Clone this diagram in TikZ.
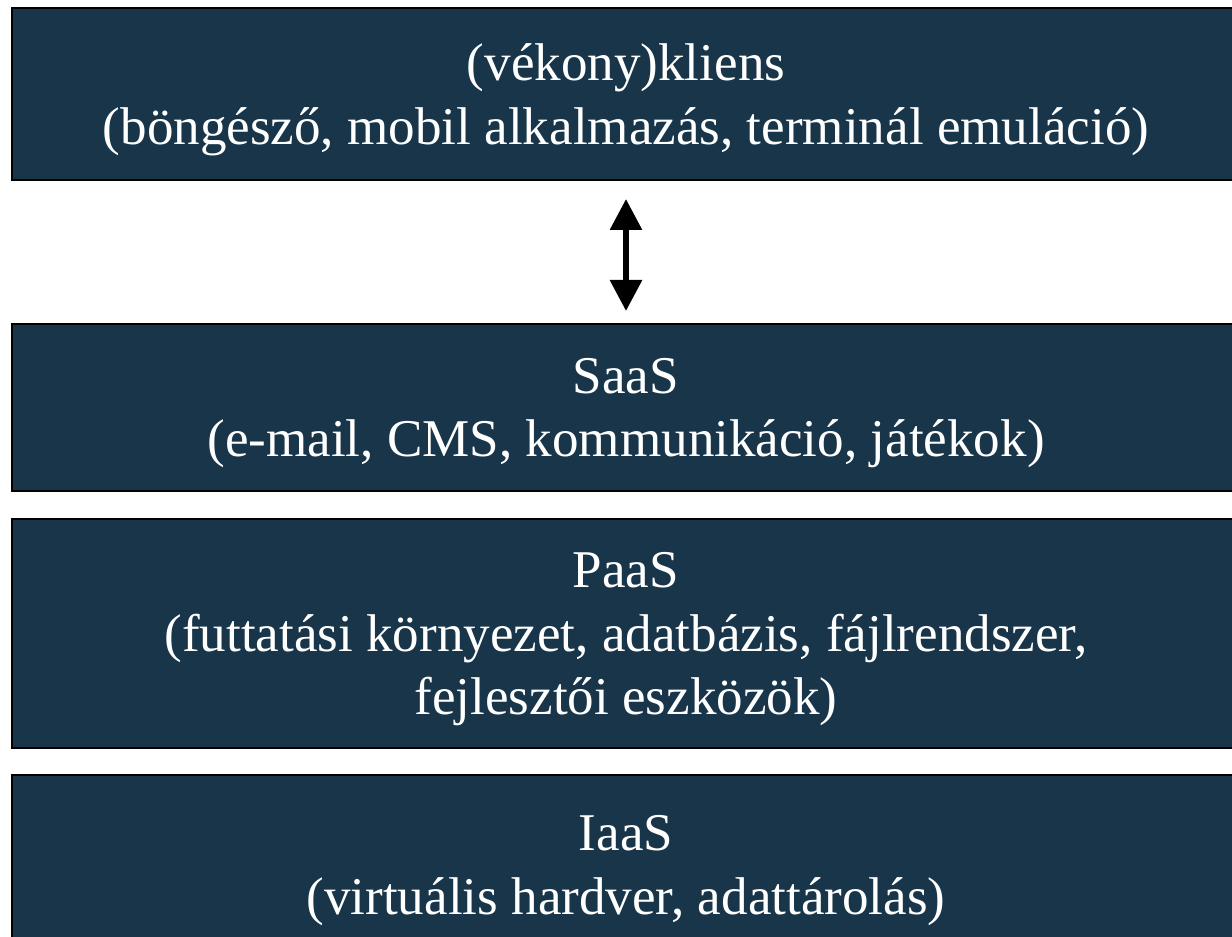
\documentclass[tikz,border=0pt]{standalone}
\usepackage{fontspec}
\setmainfont{Liberation Serif}
\usepackage{tikz}
\usetikzlibrary{arrows.meta, positioning}
\definecolor{layernavy}{RGB}{24, 53, 74}
\tikzset{
  >=Triangle,
  linkarrow/.style={{Triangle[length=0.62cm, width=0.62cm]}-{Triangle[length=0.62cm, width=0.62cm]}, line width=3.4pt, black}
}

\begin{document}
\begin{tikzpicture}[
    layerbox/.style={rectangle, draw=black, fill=layernavy, line width=1.2pt, text=white, align=center, inner sep=0pt, outer sep=0pt, text depth=0pt, minimum width=24.56cm, font=\fontsize{30.2}{36.2}\selectfont}
]
    \useasboundingbox (0, 0) rectangle (24.64, -18.74);

    % Client on top
    \node[layerbox, minimum height=3.44cm] (client) at (12.52, -1.88) {(vékony)kliens\\(böngésző, mobil alkalmazás, terminál emuláció)};

    % Service layers
    \node[layerbox, minimum height=3.34cm] (saas) at (12.52, -8.15) {SaaS\\(e-mail, CMS, kommunikáció, játékok)};
    \node[layerbox, minimum height=4.58cm] (paas) at (12.52, -12.67) {PaaS\\(futtatási környezet, adatbázis, fájlrendszer,\\fejlesztői eszközök)};
    \node[layerbox, minimum height=3.6cm] (iaas) at (12.52, -17.3) {IaaS\\(virtuális hardver, adattárolás)};

    % Client <-> SaaS
    \draw[linkarrow, shorten <=0.38cm, shorten >=0.26cm] (client) -- (saas);
\end{tikzpicture}
\end{document}
